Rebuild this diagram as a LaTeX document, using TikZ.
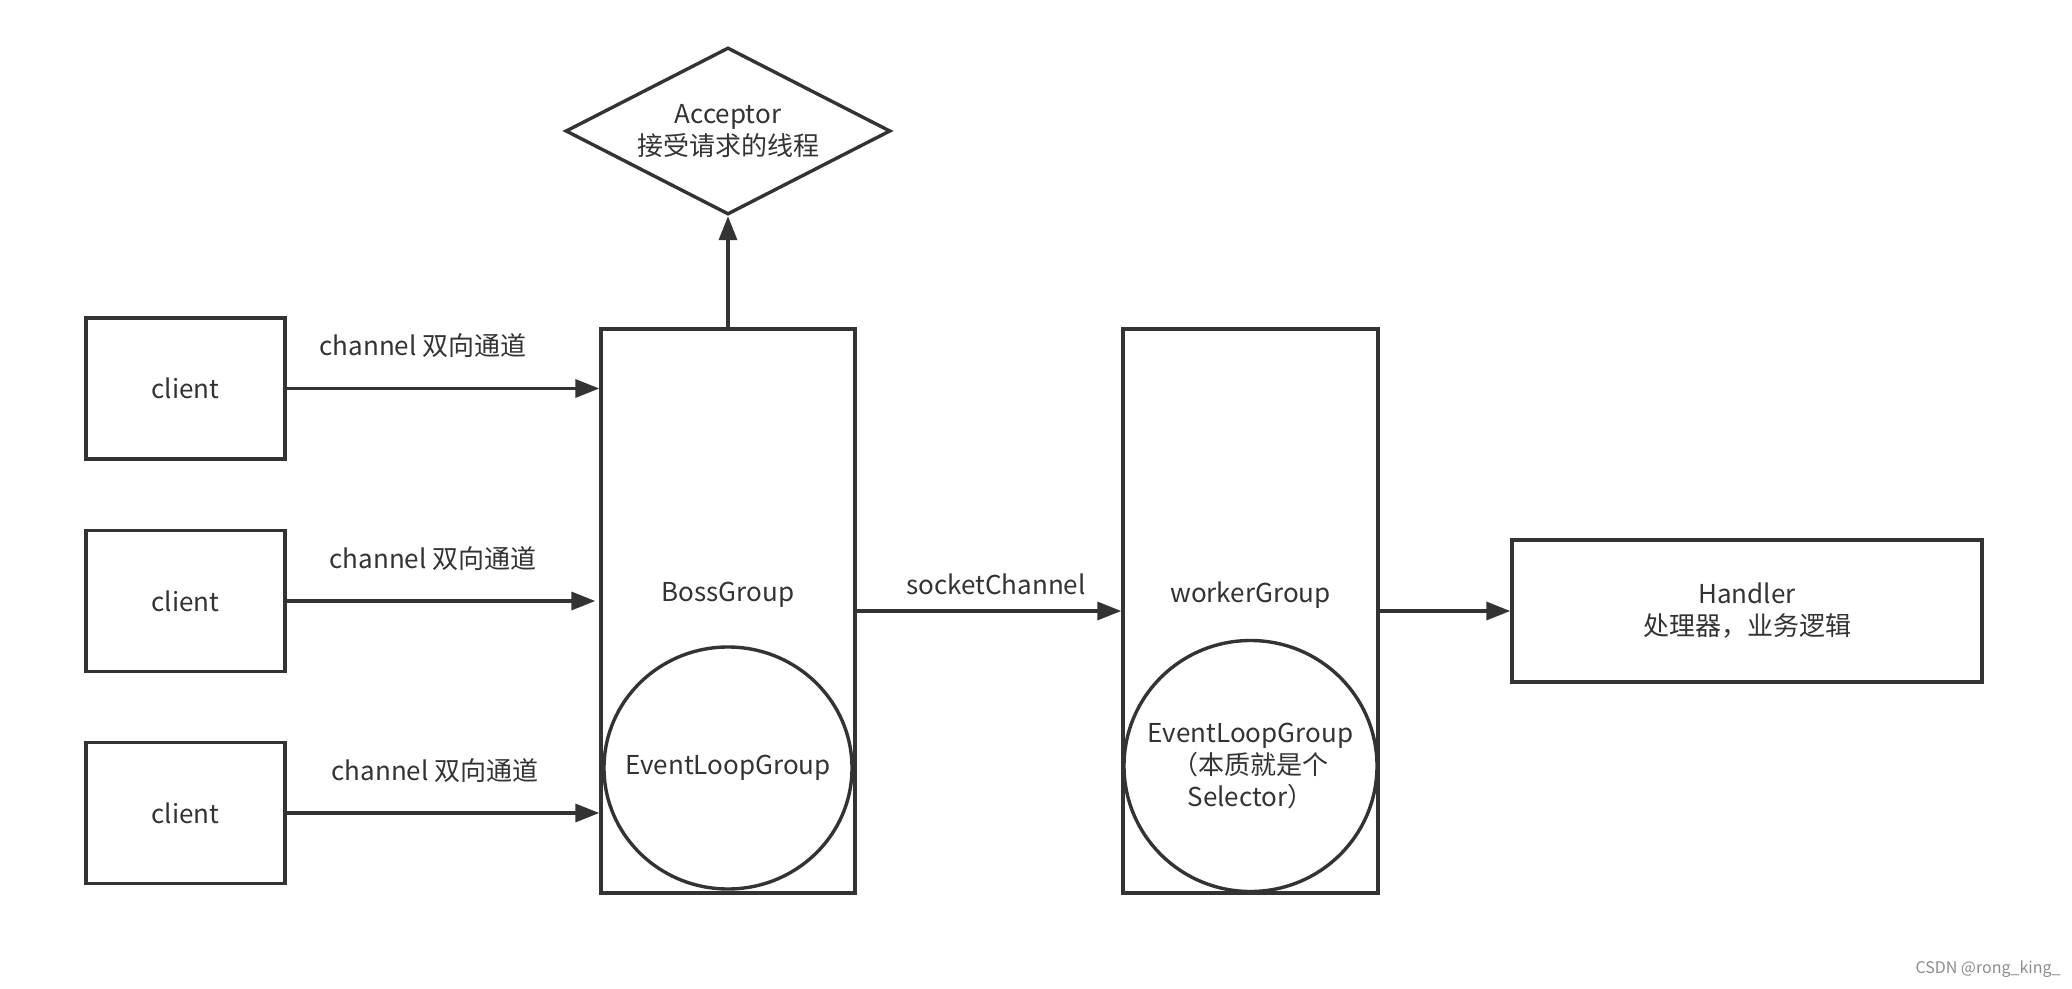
\documentclass[tikz,border=0pt]{standalone}
\usepackage{fontspec}
\setmainfont{Noto Sans CJK SC}
\usetikzlibrary{shapes.geometric,arrows.meta}
\definecolor{ink}{HTML}{333333}
\begin{document}
\begin{tikzpicture}[x=0.5pt,y=-0.5pt,
                every node/.style={text=ink, font=\fontsize{13pt}{16pt}\selectfont},
                box/.style={draw=ink, line width=1.7pt, inner sep=0pt, align=center},
                link/.style={draw=ink, line width=1.7pt, -{Triangle[length=12pt,width=9pt]}}]
                \useasboundingbox (0,0) rectangle (2072,989);
                \node[box, minimum width=99.5pt, minimum height=70.5pt] (c1) at (185.5,388.5) {client};
                \node[box, minimum width=99.5pt, minimum height=70.5pt] (c2) at (185.5,601) {client};
                \node[box, minimum width=99.5pt, minimum height=70.5pt] (c3) at (185.5,813) {client};
                \node[box, minimum width=127pt, minimum height=282pt] (boss) at (728,611) {};
                \node[] (bossname) at (728,595) {BossGroup};
                \node[box, ellipse, minimum width=124pt, minimum height=121pt] (bossloop) at (728,768) {};
                \node[align=center] (bosstext) at (728,768) {EventLoopGroup};
                \node[box, diamond, aspect=2, minimum width=162.5pt, minimum height=83.5pt] (acc) at (728,131) {Acceptor\\接受请求的线程};
                \node[box, minimum width=127.5pt, minimum height=282pt] (worker) at (1250.5,611) {};
                \node[] (workername) at (1250.5,595) {workerGroup};
                \node[box, ellipse, minimum width=126.5pt, minimum height=125.5pt] (workerloop) at (1250.5,766) {};
                \node[align=center] (workertext) at (1250.5,766) {EventLoopGroup\\（本质就是个\\Selector）};
                \node[box, minimum width=235pt, minimum height=71pt] (handler) at (1747,611) {Handler\\处理器，业务逻辑};
                \node[text=black!45, font=\fontsize{8pt}{9pt}\selectfont] (mark) at (1988,969) {CSDN @rong\_king\_};
                \draw[link] (c1.east) -- (c1.east -| boss.west)
                    node [midway, above=11pt, xshift=-10pt] {channel 双向通道};
                \draw[link] (c2.east) -- ([xshift=-2pt]c2.east -| boss.west)
                    node [midway, above=11pt, xshift=-4pt] {channel 双向通道};
                \draw[link] (c3.east) -- (c3.east -| boss.west)
                    node [midway, above=11pt, xshift=-4pt] {channel 双向通道};
                \draw[link] (boss.north) -- (acc.south);
                \draw[link] (boss.east) -- (worker.west)
                    node [midway, above=4pt, xshift=3.5pt] {socketChannel};
                \draw[link] (worker.east) -- (handler.west);
            \end{tikzpicture}
\end{document}
